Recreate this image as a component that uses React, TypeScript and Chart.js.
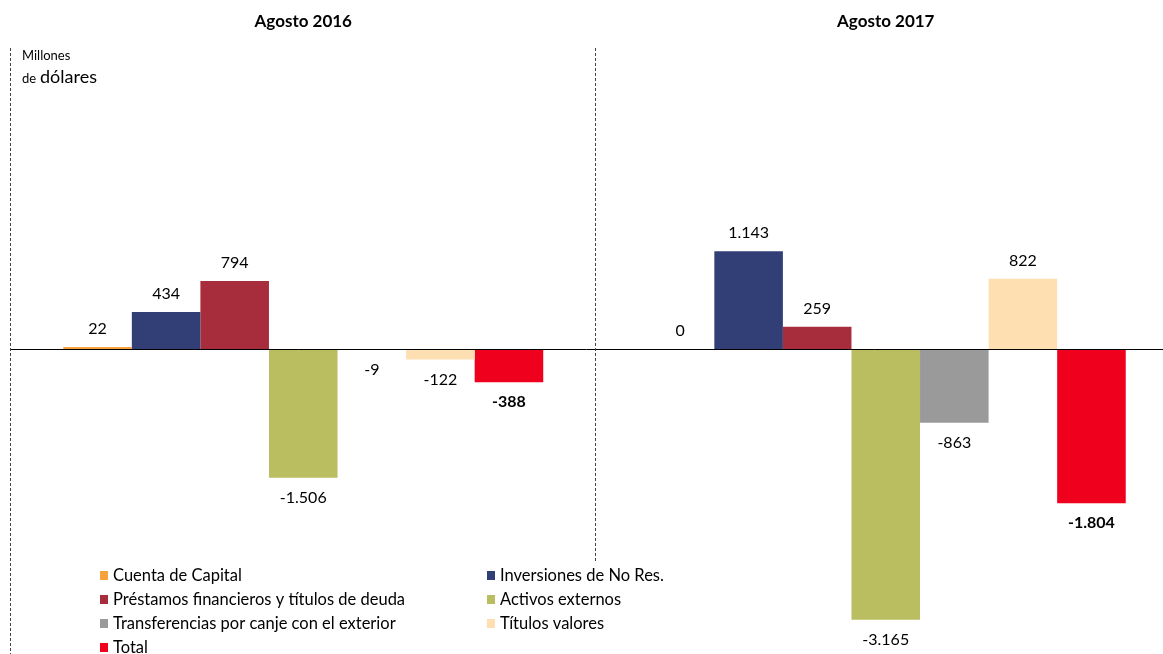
import React, { useEffect, useRef } from "react";
import { Chart, registerables } from "chart.js";

Chart.register(...registerables);

const categories = ["Agosto 2016", "Agosto 2017"];
const seriesNames = [
  "Cuenta de Capital",
  "Inversiones de No Res.",
  "Préstamos financieros y títulos de deuda",
  "Activos externos",
  "Transferencias por canje con el exterior",
  "Títulos valores",
  "Total",
];
const cuentaCapital = [22, 0];
const inversionesNoRes = [434, 1143];
const prestamos = [794, 259];
const activosExternos = [-1506, -3165];
const transferencias = [-9, -863];
const titulosValores = [-122, 822];
const total = [-388, -1804];
const seriesColors = ["#F7A23A", "#323F77", "#A82D3C", "#BBBE60", "#9A9A9A", "#FDDFB1", "#EF001C"];
const boldSeries = [false, false, false, false, false, false, true];
const yMin = -3567;
const yMax = 3520;

const FONT = "Lato, 'Open Sans', sans-serif";

function fmt(v: number): string {
  const s = Math.abs(Math.round(v)).toString().replace(/\B(?=(\d{3})+(?!\d))/g, ".");
  return (v < 0 ? "-" : "") + s;
}

const decorPlugin = {
  id: "decor",
  afterDatasetsDraw(chart: any) {
    const ctx = chart.ctx;
    const xs = chart.scales.x;
    const ys = chart.scales.y;
    const area = chart.chartArea;
    const zeroY = Math.round(ys.getPixelForValue(0)) + 0.5;
    ctx.save();
    // zero line
    ctx.strokeStyle = "#000";
    ctx.lineWidth = 1;
    ctx.beginPath();
    ctx.moveTo(10, zeroY);
    ctx.lineTo(1163, zeroY);
    ctx.stroke();
    // dashed separators
    ctx.strokeStyle = "#444";
    ctx.setLineDash([3, 2]);
    ctx.beginPath();
    ctx.moveTo(10.5, area.top);
    ctx.lineTo(10.5, 654);
    const mid = Math.round((xs.getPixelForValue(0) + xs.getPixelForValue(1)) / 2) + 0.5;
    ctx.moveTo(mid, area.top);
    ctx.lineTo(mid, 562);
    ctx.stroke();
    ctx.setLineDash([]);
    // category titles
    ctx.fillStyle = "#000";
    ctx.textAlign = "center";
    ctx.textBaseline = "middle";
    ctx.font = `bold 17px ${FONT}`;
    categories.forEach((c, i) => {
      ctx.fillText(c, xs.getPixelForValue(i), 22);
    });
    // value labels
    chart.data.datasets.forEach((ds: any, di: number) => {
      const meta = chart.getDatasetMeta(di);
      ctx.font = `${boldSeries[di] ? "bold " : ""}16px ${FONT}`;
      meta.data.forEach((bar: any, i: number) => {
        const v = ds.data[i];
        const y = v >= 0 ? bar.y - 18 : bar.y + 20;
        ctx.fillText(fmt(v), bar.x, y);
      });
    });
    // unit label
    ctx.textAlign = "left";
    ctx.font = `13px ${FONT}`;
    ctx.fillText("Millones", 22, 56);
    ctx.fillText("de", 22, 79);
    ctx.font = `18px ${FONT}`;
    ctx.fillText("dólares", 40, 77);
    // legend
    const cols = [100, 487];
    ctx.font = `16.5px ${FONT}`;
    seriesNames.forEach((name, i) => {
      const col = i % 2;
      const row = Math.floor(i / 2);
      const x = cols[col];
      const y = 576 + row * 24;
      ctx.fillStyle = seriesColors[i];
      ctx.fillRect(x, y - 5, 8, 9);
      ctx.fillStyle = "#000";
      ctx.fillText(name, x + 13, y);
    });
    ctx.restore();
  },
};

export default function App() {
  const ref = useRef<HTMLCanvasElement>(null);
  useEffect(() => {
    document.body.style.margin = "0";
    const values = [cuentaCapital, inversionesNoRes, prestamos, activosExternos, transferencias, titulosValores, total];
    const chart = new Chart(ref.current!, {
      type: "bar",
      data: {
        labels: categories,
        datasets: seriesNames.map((name, i) => ({
          label: name,
          data: values[i],
          backgroundColor: seriesColors[i],
          borderWidth: 0,
          categoryPercentage: 0.824,
          barPercentage: 1,
        })),
      },
      options: {
        responsive: false,
        animation: false,
        maintainAspectRatio: false,
        layout: { padding: { left: 12, right: 13, top: 48, bottom: 0 } },
        plugins: { legend: { display: false }, tooltip: { enabled: false }, title: { display: false } },
        scales: {
          x: { display: false },
          y: { display: false, min: yMin, max: yMax },
        },
      },
      plugins: [decorPlugin],
    });
    return () => chart.destroy();
  }, []);
  return (
    <div style={{ position: "relative", width: 1163, height: 654, overflow: "hidden", background: "#fff" }}>
      <canvas ref={ref} width={1190} height={654} style={{ position: "absolute", left: 0, top: 0, width: 1190, height: 654 }} />
    </div>
  );
}
